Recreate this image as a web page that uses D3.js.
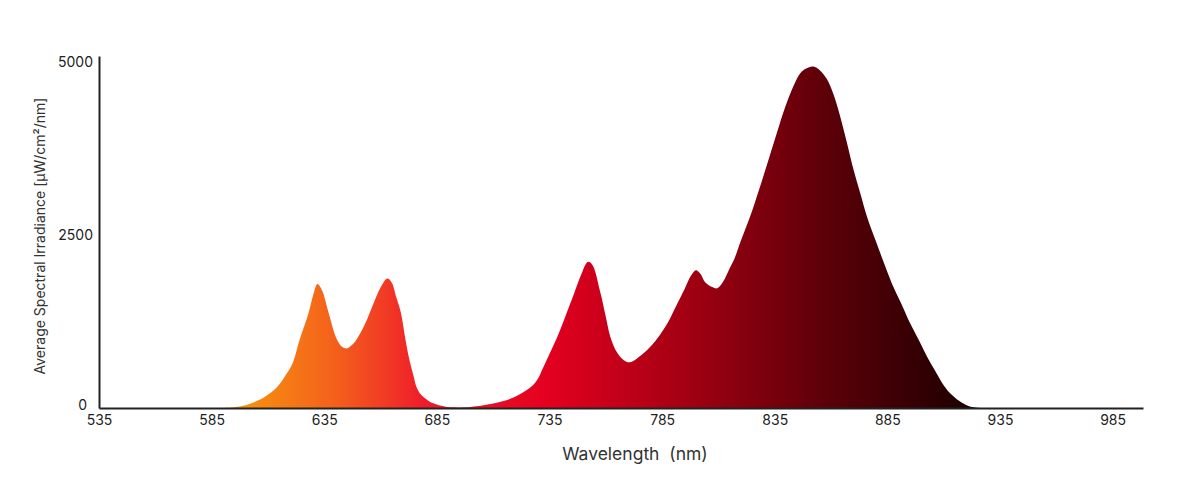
<!DOCTYPE html>
<html>
<head>
<meta charset="utf-8">
<script src="https://cdn.jsdelivr.net/npm/d3@7"></script>
<style>
  body { margin: 0; background: #fff; }
  svg { display: block; }
</style>
</head>
<body>
<div id="drawArea"></div>
<script>
// wavelengths (nm) and irradiance
var wavelengths = [535, 590, 595, 600, 605, 609, 614, 618, 621, 624, 628, 630, 632, 634, 637, 640.5, 643, 645, 648, 651,
  654, 657, 660, 663, 665, 667, 669, 671, 672.5, 674.5, 676, 678, 681, 684, 688, 692, 700, 705, 710, 715,
  719, 723, 727, 730, 732, 735, 738.5, 742, 746, 749, 752, 754, 757.5, 760, 762, 765, 768, 770.5, 774, 778.5,
  783, 787.5, 791, 795, 798, 800, 802, 804, 807, 809.5, 812, 815, 817, 820, 824, 828, 832, 836, 840, 844,
  847, 850, 852.5, 855, 858, 861, 864, 867, 870, 873, 876, 880, 883.5, 887, 891, 895, 899, 903, 906, 910,
  913, 917, 921, 925, 930, 998];
var irradiance = [0, 0, 10, 40, 100, 170, 300, 480, 650, 980, 1370, 1620, 1790, 1700, 1370, 1000, 880, 860, 930, 1080,
  1280, 1520, 1740, 1870, 1810, 1600, 1380, 1000, 740, 480, 300, 190, 110, 60, 25, 10, 15, 35, 65, 105,
  150, 220, 310, 430, 570, 780, 1030, 1320, 1660, 1920, 2110, 2070, 1680, 1320, 1030, 800, 690, 660, 720, 840,
  1010, 1230, 1460, 1720, 1920, 1990, 1940, 1820, 1750, 1730, 1820, 2020, 2150, 2420, 2760, 3150, 3560, 3980, 4380, 4700,
  4860, 4920, 4930, 4880, 4760, 4540, 4220, 3840, 3440, 3100, 2760, 2400, 2095, 1800, 1520, 1230, 980, 720, 550, 330,
  210, 100, 30, 5, 0, 0];

var xTicks = [535, 585, 635, 685, 735, 785, 835, 885, 935, 985];
var yTicks = [0, 2500, 5000];

// fill colours along the wavelength axis
var gradientNm = [595, 640, 680, 735, 800, 860, 925];
var gradientColors = ['#f7960d', '#f4601c', '#ef1b2b', '#e3001f', '#9e0012', '#5a0008', '#1a0000'];

var width = 1200, height = 485;
var textColor = '#222';
var fontFamily = 'Inter, "Noto Sans", sans-serif';

var svg = d3.select('#drawArea').append('svg')
  .attr('width', width)
  .attr('height', height);

var x = d3.scaleLinear().domain([535, 998.5]).range([99, 1143]);
var y = d3.scaleLinear().domain([0, 5085]).range([408, 56]);

var points = wavelengths.map(function(w, i) { return {nm: w, v: irradiance[i]}; });

var grad = svg.append('defs').append('linearGradient')
  .attr('id', 'spectrum')
  .attr('gradientUnits', 'userSpaceOnUse')
  .attr('x1', x(gradientNm[0])).attr('x2', x(gradientNm[gradientNm.length - 1]))
  .attr('y1', 0).attr('y2', 0);

grad.selectAll('stop')
  .data(gradientNm)
  .enter().append('stop')
    .attr('offset', function(d) {
      return (d - gradientNm[0]) / (gradientNm[gradientNm.length - 1] - gradientNm[0]);
    })
    .attr('stop-color', function(d, i) { return gradientColors[i]; });

var area = d3.area()
  .x(function(d) { return x(d.nm); })
  .y0(y(0))
  .y1(function(d) { return y(d.v); })
  .curve(d3.curveCatmullRom.alpha(0.5));

var clip = svg.select('defs').append('clipPath').attr('id', 'plotClip');
clip.append('rect')
  .attr('x', x(535)).attr('y', 0)
  .attr('width', x(998.5) - x(535)).attr('height', y(0));

svg.append('path')
  .datum(points)
  .attr('d', area)
  .attr('clip-path', 'url(#plotClip)')
  .attr('fill', 'url(#spectrum)');

// x axis
var xAxis = svg.append('g')
  .attr('transform', 'translate(0,' + y(0) + ')')
  .call(d3.axisBottom(x).tickValues(xTicks).tickSize(0).tickPadding(7).tickFormat(d3.format('d')));

xAxis.select('.domain').attr('stroke', textColor).attr('stroke-width', 2);
xAxis.selectAll('text')
  .attr('font-family', fontFamily)
  .attr('font-size', 14)
  .attr('fill', textColor);

// y axis
var yAxis = svg.append('g')
  .attr('transform', 'translate(' + x(535) + ',0)')
  .call(d3.axisLeft(y).tickValues(yTicks).tickSize(0).tickPadding(6).tickFormat(d3.format('d')));

yAxis.select('.domain').attr('stroke', textColor).attr('stroke-width', 2);
yAxis.selectAll('text')
  .attr('font-family', fontFamily)
  .attr('font-size', 14)
  .attr('fill', textColor);
yAxis.selectAll('.tick')
  .filter(function(d) { return d === 0; })
  .select('text')
    .attr('dy', '0.1em')
    .attr('x', -12);

svg.append('text')
  .attr('x', 635)
  .attr('y', 460)
  .attr('text-anchor', 'middle')
  .attr('font-family', fontFamily)
  .attr('font-size', 17.5)
  .attr('fill', '#333')
  .style('white-space', 'pre')
  .text('Wavelength  (nm)');

svg.append('text')
  .attr('transform', 'translate(45,236) rotate(-90)')
  .attr('text-anchor', 'middle')
  .attr('font-family', fontFamily)
  .attr('font-size', 14)
  .attr('fill', '#333')
  .text('Average Spectral Irradiance [μW/cm²/nm]');
</script>
</body>
</html>
